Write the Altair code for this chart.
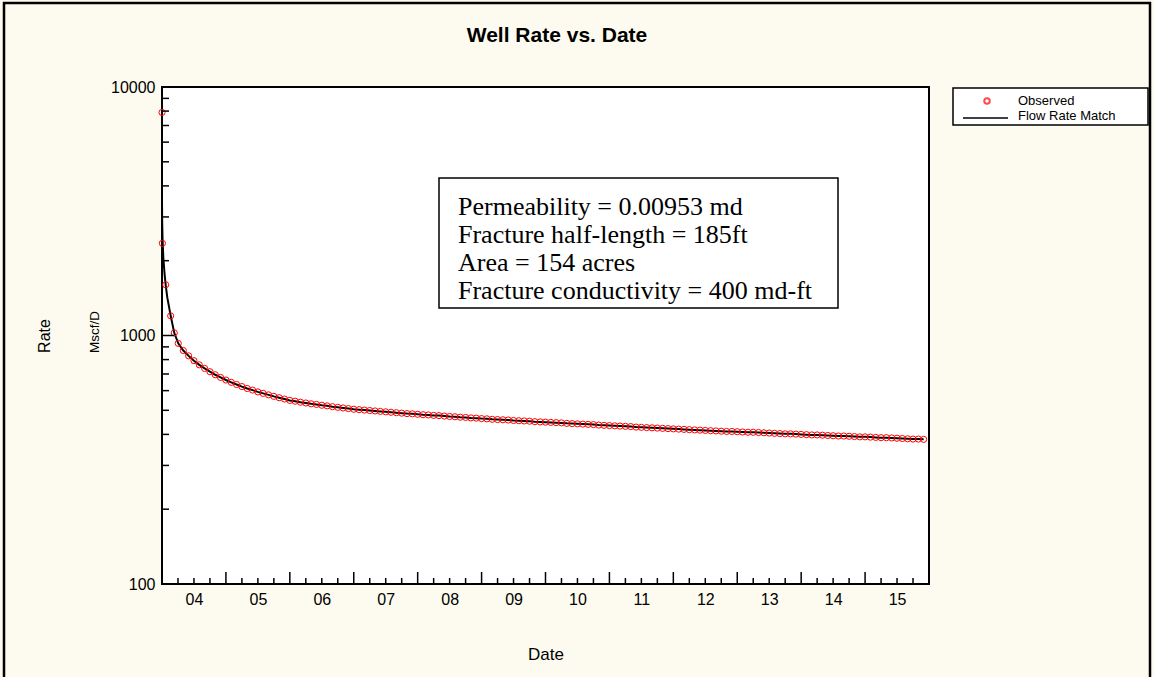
import altair as alt
import pandas as pd

W, H = 767, 497

# ---------------- data ----------------
# months after 2004-01-01
obs_month = [0, 0.07, 0.69, 1.63, 2.3, 3.05] + list(range(4, 144))
early_obs_rate = [7900, 2350, 1600, 1200, 1025, 930]
monthly_rate = [
    870, 828, 792, 762, 737, 715, 695, 678, 662,
    648, 635, 623, 612, 603, 593, 585, 577, 569, 562, 555, 548,
    544, 539, 535, 531, 528, 524, 521, 517, 514, 511, 508, 505,
    503, 501, 499, 497, 495, 493, 491, 489, 487, 485, 484, 482,
    480, 479, 477, 476, 474, 472, 471, 469, 468, 466, 465, 463,
    462, 460, 459, 458, 457, 455, 454, 453, 452, 450, 449, 448,
    447, 446, 445, 443, 442, 441, 440, 439, 438, 436, 435, 434,
    433, 432, 431, 430, 428, 427, 426, 425, 424, 423, 422, 421,
    420, 419, 418, 417, 416, 415, 414, 413, 412, 411, 411, 410,
    409, 408, 408, 407, 406, 405, 404, 403, 402, 402, 401, 400,
    399, 398, 398, 397, 396, 395, 394, 394, 393, 392, 391, 391,
    390, 389, 388, 388, 387, 386, 385, 384, 383, 383, 382,
]
obs_rate = early_obs_rate + monthly_rate

fit_early_month = [0, 0.03, 0.1, 0.25, 0.5, 0.69, 1.0, 1.63, 2.3, 3.05]
fit_early_rate = [3500, 2900, 2450, 2050, 1750, 1600, 1420, 1200, 1025, 930]
fit_month = fit_early_month + list(range(4, 144))
fit_rate = fit_early_rate + monthly_rate

year_label_values = [2004.5 + i for i in range(12)]
major_x_ticks = list(range(2005, 2016))
minor_x_ticks = [y + q for y in range(2004, 2016) for q in (0.25, 0.5, 0.75)]
major_y_ticks = [1000]
minor_y_ticks = [200, 300, 400, 500, 600, 700, 800, 900,
                 2000, 3000, 4000, 5000, 6000, 7000, 8000, 9000]
y_label_values = [100, 1000, 10000]

box_lines = [
    "Permeability = 0.00953 md",
    "Fracture half-length = 185ft",
    "Area = 154 acres",
    "Fracture conductivity = 400 md-ft",
]

obs = pd.DataFrame({"year": [2004 + m / 12 for m in obs_month], "rate": obs_rate})
fit = pd.DataFrame({"year": [2004 + m / 12 for m in fit_month], "rate": fit_rate})
one = pd.DataFrame({"k": [0]})

SANS = "Liberation Sans"
SERIF = "Liberation Serif"
CREAM = "#FDFBEF"

xs = alt.Scale(domain=[2004, 2016], nice=False, zero=False)
ys = alt.Scale(type="log", domain=[100, 10000], nice=False)

x_axis = alt.Axis(
    values=year_label_values,
    labelExpr="(floor(datum.value % 100) < 10 ? '0' : '') + floor(datum.value % 100)",
    ticks=False, domain=False, grid=False,
    labelFont=SANS, labelFontSize=16, labelColor="black", labelPadding=7,
    title="Date", titleFont=SANS, titleFontSize=17, titleFontWeight="normal",
    titleColor="black", titlePadding=39,
)
y_axis = alt.Axis(
    values=y_label_values, format="d",
    ticks=False, domain=False, grid=False,
    labelFont=SANS, labelFontSize=16, labelColor="black", labelPadding=7,
    title=None,
)

line = alt.Chart(fit).mark_line(color="black", strokeWidth=2).encode(
    x=alt.X("year:Q", scale=xs, axis=x_axis),
    y=alt.Y("rate:Q", scale=ys, axis=y_axis),
)
points = alt.Chart(obs).mark_point(
    shape="circle", filled=False, color="#FF0000", size=38, strokeWidth=1, opacity=1
).encode(
    x=alt.X("year:Q", scale=xs, axis=x_axis),
    y=alt.Y("rate:Q", scale=ys, axis=y_axis),
)

def xticks(vals, length):
    return alt.Chart(pd.DataFrame({"v": vals})).mark_rule(color="black", strokeWidth=1.5).encode(
        x=alt.X("v:Q", scale=xs, axis=x_axis),
        y=alt.value(H), y2=alt.value(H - length),
    )

def yticks(vals, length):
    return alt.Chart(pd.DataFrame({"v": vals})).mark_rule(color="black", strokeWidth=1.5).encode(
        y=alt.Y("v:Q", scale=ys, axis=y_axis),
        x=alt.value(0), x2=alt.value(length),
    )

# text box
box = alt.Chart(one).mark_rect(fill="white", stroke="black", strokeWidth=1.5).encode(
    x=alt.value(277), x2=alt.value(676), y=alt.value(91), y2=alt.value(221)
)
box_text = alt.Chart(one).mark_text(
    font=SERIF, fontSize=26, lineHeight=28, align="left", baseline="alphabetic", color="black"
).encode(x=alt.value(296), y=alt.value(128), text=alt.value(box_lines))

# legend
leg_box = alt.Chart(one).mark_rect(fill="white", stroke="black", strokeWidth=1.5).encode(
    x=alt.value(791), x2=alt.value(986), y=alt.value(1), y2=alt.value(38)
)
leg_pt = alt.Chart(one).mark_point(shape="circle", filled=False, color="#FF0000", size=30).encode(
    x=alt.value(825), y=alt.value(14)
)
leg_line = alt.Chart(one).mark_rule(color="black", strokeWidth=1.5).encode(
    x=alt.value(801), x2=alt.value(846), y=alt.value(31)
)
leg_t1 = alt.Chart(one).mark_text(font=SANS, fontSize=13, align="left", baseline="middle").encode(
    x=alt.value(856), y=alt.value(14), text=alt.value("Observed")
)
leg_t2 = alt.Chart(one).mark_text(font=SANS, fontSize=13, align="left", baseline="middle").encode(
    x=alt.value(856), y=alt.value(29), text=alt.value("Flow Rate Match")
)

# titles
title = alt.Chart(one).mark_text(font=SANS, fontSize=21, fontWeight="bold", baseline="middle").encode(
    x=alt.value(395), y=alt.value(-51), text=alt.value("Well Rate vs. Date")
)
rate_t = alt.Chart(one).mark_text(font=SANS, fontSize=16, angle=270, baseline="middle").encode(
    x=alt.value(-117), y=alt.value(249), text=alt.value("Rate")
)
unit_t = alt.Chart(one).mark_text(font=SANS, fontSize=13.5, angle=270, baseline="middle").encode(
    x=alt.value(-67), y=alt.value(245), text=alt.value("Mscf/D")
)

# outer frame of the picture
frame = alt.Chart(one).mark_rect(fillOpacity=0, stroke="black", strokeWidth=2.5).encode(
    x=alt.value(-158), x2=alt.value(988), y=alt.value(-84), y2=alt.value(620)
)

chart = alt.layer(
    line, points,
    xticks(minor_x_ticks, 6), xticks(major_x_ticks, 12),
    yticks(minor_y_ticks, 7), yticks(major_y_ticks, 12),
    box, box_text,
    leg_box, leg_pt, leg_line, leg_t1, leg_t2,
    title, rate_t, unit_t, frame,
).properties(
    width=W, height=H,
    autosize="none",
    padding={"left": 162, "top": 87, "right": 225, "bottom": 93},
    background=CREAM,
).configure_view(stroke="black", strokeWidth=2, fill="white")

chart.save("out.html", embed_options={"renderer": "svg", "actions": False})
